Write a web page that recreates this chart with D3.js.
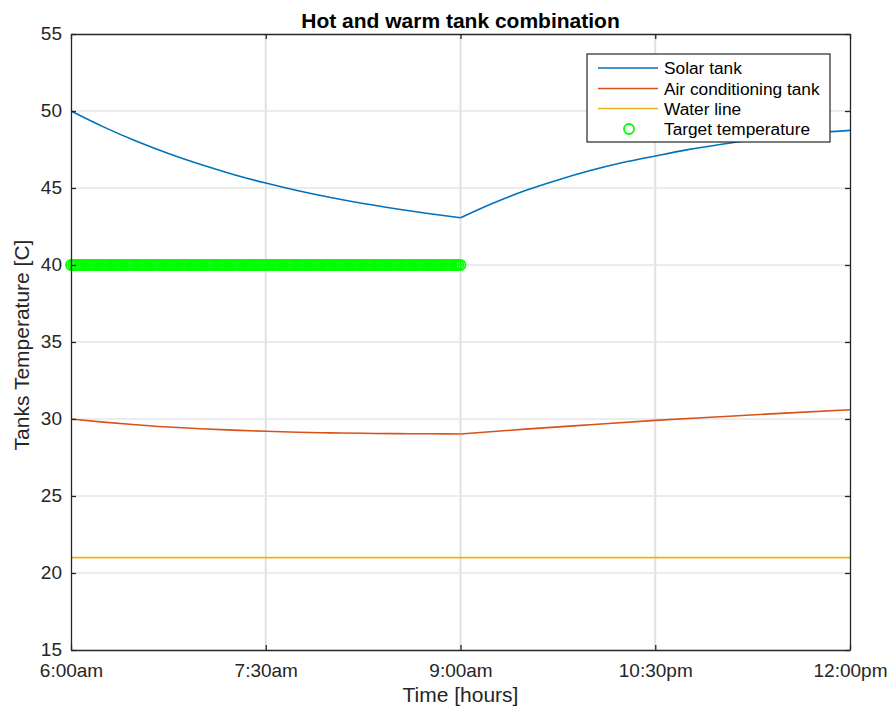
<!DOCTYPE html>
<html>
<head>
<meta charset="utf-8">
<script src="https://cdn.jsdelivr.net/npm/d3@7"></script>
<style>
  html, body { margin: 0; padding: 0; background: #fff; }
  svg { display: block; font-family: "Liberation Sans", Arial, Helvetica, sans-serif; }
</style>
</head>
<body>
<svg id="chart" width="893" height="709"></svg>
<script>
// ---- data (hours of day, °C) ----
const solarTimes = [6, 6.25, 6.5, 6.75, 7, 7.25, 7.5, 7.75, 8, 8.25, 8.5, 8.75, 9,
                    9.25, 9.5, 9.75, 10, 10.25, 10.5, 10.75, 11, 11.25, 11.5, 11.75, 12];
const solarTemps = [50.0, 48.97, 48.05, 47.24, 46.52, 45.88, 45.32, 44.82, 44.38, 43.99, 43.65, 43.34, 43.07,
                    44.01, 44.83, 45.52, 46.13, 46.65, 47.08, 47.49, 47.83, 48.12, 48.37, 48.58, 48.74];

const acTimes = [6, 6.25, 6.5, 6.75, 7, 7.25, 7.5, 7.75, 8, 8.25, 8.5, 8.75, 9,
                 9.5, 10, 10.5, 11, 11.5, 12];
const acTemps = [30.0, 29.8, 29.63, 29.48, 29.37, 29.28, 29.2, 29.14, 29.1, 29.07, 29.05, 29.04, 29.03,
                 29.34, 29.63, 29.91, 30.15, 30.38, 30.6];

const waterTimes = [6, 12];
const waterTemps = [21, 21];

// target temperature markers: minutes after 6:00am
const targetMinutes = [0, 1, 2, 3, 4, 5, 6, 7, 8, 9, 10, 11, 12, 13, 14, 15, 16, 17, 18, 19,
  20, 21, 22, 23, 24, 25, 26, 27, 28, 29, 30, 31, 32, 33, 34, 35, 36, 37, 38, 39,
  40, 41, 42, 43, 44, 45, 46, 47, 48, 49, 50, 51, 52, 53, 54, 55, 56, 57, 58, 59,
  60, 61, 62, 63, 64, 65, 66, 67, 68, 69, 70, 71, 72, 73, 74, 75, 76, 77, 78, 79,
  80, 81, 82, 83, 84, 85, 86, 87, 88, 89, 90, 91, 92, 93, 94, 95, 96, 97, 98, 99,
  100, 101, 102, 103, 104, 105, 106, 107, 108, 109, 110, 111, 112, 113, 114, 115, 116, 117, 118, 119,
  120, 121, 122, 123, 124, 125, 126, 127, 128, 129, 130, 131, 132, 133, 134, 135, 136, 137, 138, 139,
  140, 141, 142, 143, 144, 145, 146, 147, 148, 149, 150, 151, 152, 153, 154, 155, 156, 157, 158, 159,
  160, 161, 162, 163, 164, 165, 166, 167, 168, 169, 170, 171, 172, 173, 174, 175, 176, 177, 178, 179, 180];
const targetTemp = 40;

const xTickValues = [6, 7.5, 9, 10.5, 12];
const xTickLabels = ["6:00am", "7:30am", "9:00am", "10:30pm", "12:00pm"];
const yTickValues = [15, 20, 25, 30, 35, 40, 45, 50, 55];

const seriesNames = ["Solar tank", "Air conditioning tank", "Water line", "Target temperature"];
const colors = { solar: "#0072BD", ac: "#D95319", water: "#EDB120", target: "#00FF00" };

// ---- layout ----
const L = 71, R = 850, T = 34, B = 650;
const svg = d3.select("#chart");
const x = d3.scaleLinear().domain([6, 12]).range([L, R]);
const y = d3.scaleLinear().domain([15, 55]).range([B, T]);

// grid
const grid = svg.append("g");
grid.selectAll("line.gx").data(xTickValues.slice(1, -1)).enter().append("line")
  .attr("x1", d => x(d)).attr("x2", d => x(d)).attr("y1", T).attr("y2", B)
  .attr("stroke", "#e1e1e1").attr("stroke-width", 2);
grid.selectAll("line.gy").data(yTickValues.slice(1, -1)).enter().append("line")
  .attr("x1", L).attr("x2", R).attr("y1", d => y(d)).attr("y2", d => y(d))
  .attr("stroke", "#e6e6e6").attr("stroke-width", 1.5);

// lines (smooth pieces, with the corner at the 9:00 switch kept sharp)
const line = d3.line().x(d => x(d[0])).y(d => y(d[1])).curve(d3.curveMonotoneX);
function drawLine(ts, vs, col, split) {
  const pts = d3.zip(ts, vs);
  const parts = split == null ? [pts]
    : [pts.filter(p => p[0] <= split), pts.filter(p => p[0] >= split)];
  parts.forEach(part => {
    svg.append("path").datum(part).attr("d", line)
      .attr("fill", "none").attr("stroke", col).attr("stroke-width", 1.6)
      .attr("stroke-linejoin", "round");
  });
}
drawLine(solarTimes, solarTemps, colors.solar, 9);
drawLine(acTimes, acTemps, colors.ac, 9);
drawLine(waterTimes, waterTemps, colors.water, null);

// target markers
svg.append("g").selectAll("circle").data(targetMinutes).enter().append("circle")
  .attr("cx", d => x(6 + d / 60)).attr("cy", y(targetTemp)).attr("r", 5)
  .attr("fill", "none").attr("stroke", colors.target).attr("stroke-width", 1.8);

// axes
const axisCol = "#262626";
const fmtX = d => xTickLabels[xTickValues.indexOf(d)];
const xAxis = svg.append("g").attr("transform", `translate(0,${B})`)
  .call(d3.axisBottom(x).tickValues(xTickValues).tickFormat(fmtX).tickSizeInner(-5).tickSizeOuter(0));
const xAxisTop = svg.append("g").attr("transform", `translate(0,${T})`)
  .call(d3.axisTop(x).tickValues(xTickValues).tickFormat("").tickSizeInner(-5).tickSizeOuter(0));
const yAxis = svg.append("g").attr("transform", `translate(${L},0)`)
  .call(d3.axisLeft(y).tickValues(yTickValues).tickSizeInner(-5).tickSizeOuter(0).tickPadding(9));
const yAxisR = svg.append("g").attr("transform", `translate(${R},0)`)
  .call(d3.axisRight(y).tickValues(yTickValues).tickFormat("").tickSizeInner(-5).tickSizeOuter(0));
[xAxis, xAxisTop, yAxis, yAxisR].forEach(g => {
  g.select(".domain").attr("stroke", axisCol).attr("stroke-width", 1.3);
  g.selectAll(".tick line").attr("stroke", axisCol).attr("stroke-width", 1.3);
  g.selectAll(".tick text").attr("fill", "#262626").attr("font-size", 19)
    .attr("font-family", "'Liberation Sans', Arial, sans-serif");
});
yAxis.selectAll(".tick text").attr("dy", "0.3em");
xAxis.selectAll(".tick text").attr("dy", null).attr("y", 27);

// titles
svg.append("text").attr("x", (L + R) / 2).attr("y", 28).attr("text-anchor", "middle")
  .attr("font-size", 21).attr("font-weight", "bold").attr("fill", "#000")
  .text("Hot and warm tank combination");
svg.append("text").attr("x", (L + R) / 2).attr("y", 702).attr("text-anchor", "middle")
  .attr("font-size", 21).attr("fill", "#262626").text("Time [hours]");
svg.append("text").attr("transform", `translate(29,345) rotate(-90)`)
  .attr("text-anchor", "middle").attr("font-size", 21).attr("fill", "#262626")
  .text("Tanks Temperature [C]");

// legend
const lg = svg.append("g");
lg.append("rect").attr("x", 587).attr("y", 54).attr("width", 243).attr("height", 88)
  .attr("fill", "#fff").attr("stroke", "#262626").attr("stroke-width", 1.2);
const rowY = [68, 88.5, 108.5, 129];
const legCols = [colors.solar, colors.ac, colors.water];
legCols.forEach((c, i) => {
  lg.append("line").attr("x1", 598).attr("x2", 658).attr("y1", rowY[i]).attr("y2", rowY[i])
    .attr("stroke", c).attr("stroke-width", 1.6);
});
lg.append("circle").attr("cx", 629).attr("cy", rowY[3]).attr("r", 5)
  .attr("fill", "none").attr("stroke", colors.target).attr("stroke-width", 1.8);
seriesNames.forEach((n, i) => {
  lg.append("text").attr("x", 664).attr("y", rowY[i]).attr("dy", "0.35em")
    .attr("font-size", 17.3).attr("fill", "#000").text(n);
});
</script>
</body>
</html>
